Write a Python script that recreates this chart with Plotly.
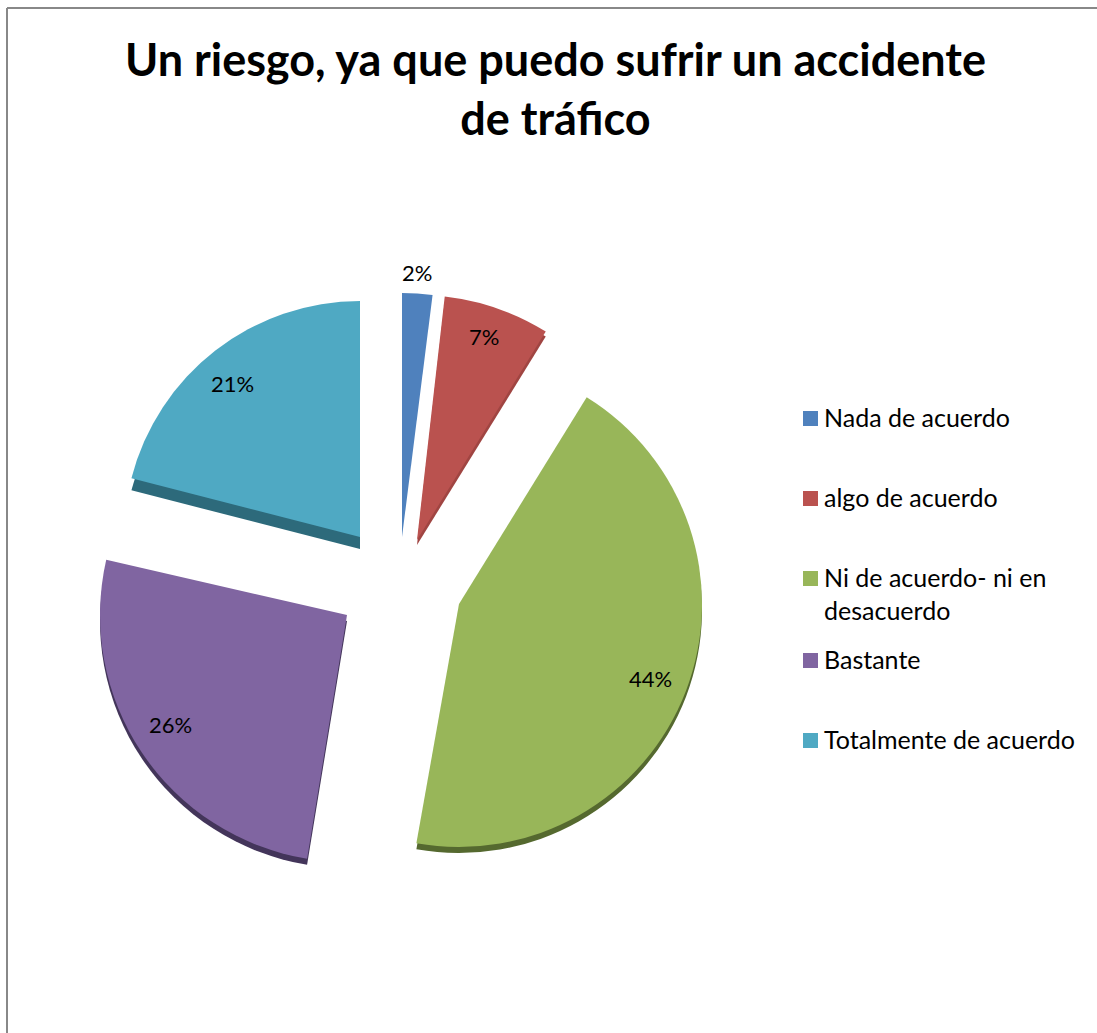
import plotly.graph_objects as go

W, H = 1097, 1033

categories = ["Nada de acuerdo", "algo de acuerdo", "Ni de acuerdo- ni en<br>desacuerdo", "Bastante", "Totalmente de acuerdo"]
values = [2, 7, 44, 26, 21]
value_labels = ["2%", "7%", "44%", "26%", "21%"]
colors = ["#4F81BD", "#BA524F", "#98B659", "#8065A1", "#4FA9C3"]
side_colors = ["#3F6797", "#A04542", "#55692F", "#43355A", "#2D6A7B"]

title_lines = "<b>Un riesgo, ya que puedo sufrir un accidente<br>de tráfico</b>"
FONT = "Lato"

# Where each exploded slice sits on the page (apex x, apex y, radius, depth of its side, small turn)
slice_apex = [(402, 537, 244, 0, 0), (417, 540, 245, 5, -0.7), (459, 604, 243, 6, -0.7), (347, 615, 247, 6, -1.5), (360, 537, 236, 12, 0)]
CLEAR = "rgba(0,0,0,0)"


def dom(cx_, cy_, r):
    return dict(x=[(cx_ - r) / W, (cx_ + r) / W],
                y=[1 - (cy_ + r) / H, 1 - (cy_ - r) / H])


def px(x):
    return x / W


def py(y):
    return 1 - y / H


def slice_trace(i, palette, dy):
    cx, cy, r, _, turn = slice_apex[i]
    cols = [palette[k] if k == i else CLEAR for k in range(len(values))]
    return go.Pie(values=values, labels=categories, sort=False, direction="clockwise", rotation=turn,
                  domain=dom(cx, cy + dy, r), marker=dict(colors=cols, line=dict(width=0)),
                  textinfo="none", hoverinfo="skip", showlegend=False)


fig = go.Figure()
for i in range(len(values)):
    if slice_apex[i][3]:
        fig.add_trace(slice_trace(i, side_colors, slice_apex[i][3]))
for i in range(len(values)):
    fig.add_trace(slice_trace(i, colors, 0))

annotations = [dict(text=title_lines, x=px(556), y=py(89), xref="paper", yref="paper", showarrow=False,
                    xanchor="center", yanchor="middle", font=dict(family=FONT, size=45, color="black"))]

label_xy = [(417, 272), (484, 336), (650, 678), (170, 724), (232, 383)]
for t, (x, y) in zip(value_labels, label_xy):
    annotations.append(dict(text=t, x=px(x), y=py(y), xref="paper", yref="paper", showarrow=False,
                            xanchor="center", yanchor="middle", font=dict(family=FONT, size=22, color="black")))

legend_y = [418, 498, 578, 660, 740]
shapes = []
for name, col, y in zip(categories, colors, legend_y):
    shapes.append(dict(type="rect", xref="paper", yref="paper", x0=px(803), x1=px(818), y0=py(y + 8), y1=py(y - 7),
                       fillcolor=col, line=dict(width=0)))
    annotations.append(dict(text=name, x=px(822), y=py(y - 18), xref="paper", yref="paper", showarrow=False,
                            xanchor="left", yanchor="top", align="left",
                            font=dict(family=FONT, size=25, color="black")))

shapes.append(dict(type="line", xref="paper", yref="paper", x0=px(7), x1=1, y0=py(8), y1=py(8),
                   line=dict(color="#888888", width=2)))
shapes.append(dict(type="line", xref="paper", yref="paper", x0=px(7), x1=px(7), y0=py(8), y1=0,
                   line=dict(color="#888888", width=2)))

fig.update_layout(width=W, height=H, margin=dict(l=0, r=0, t=0, b=0), paper_bgcolor="white",
                  showlegend=False, annotations=annotations, shapes=shapes)
fig.write_html("out.html", config={"displayModeBar": False},
               post_script="document.body.style.margin='0';document.body.style.overflow='hidden';")
